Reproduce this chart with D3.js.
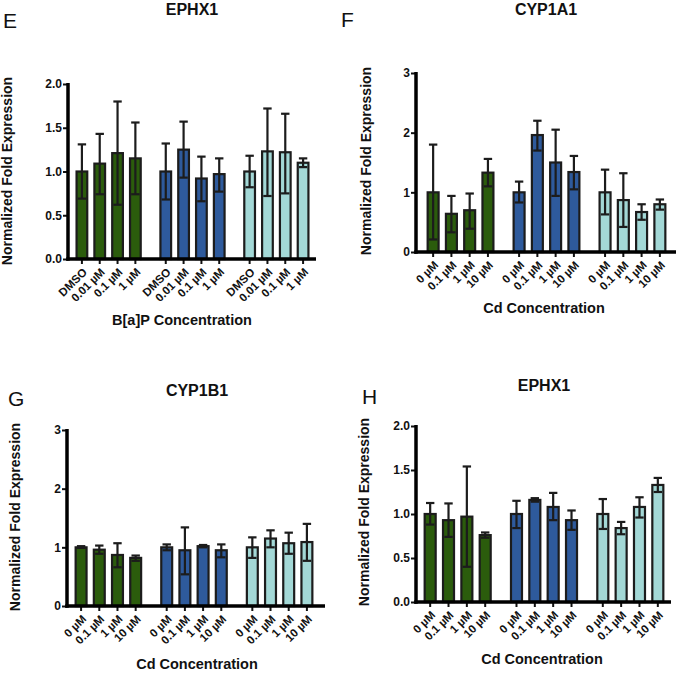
<!DOCTYPE html>
<html lang="en">
<head>
<meta charset="UTF-8">
<title>Normalized Fold Expression</title>
<script src="https://cdnjs.cloudflare.com/ajax/libs/d3/7.8.5/d3.min.js"></script>
<style>
    body { margin: 0; background: #fff; }
    svg { display: block; font-family: "Liberation Sans", Arial, Helvetica, sans-serif; }
    .panel-letter { font-size: 21px; fill: #111; }
    .panel-title { font-size: 16px; font-weight: bold; text-anchor: middle; fill: #111; }
    .axis-title { font-size: 14.5px; font-weight: bold; text-anchor: middle; fill: #111; }
    .y-title { font-size: 14px; font-weight: bold; text-anchor: middle; fill: #111; }
    .tick text { font-size: 12px; font-weight: bold; fill: #111; }
    .xt .tick text { font-size: 11.5px; }
</style>
</head>
<body>
<div id="chart"></div>
<script>
// data (order: group 1 x4, group 2 x4, group 3 x4)
const bapLabels = ["DMSO", "0.01 \u00b5M", "0.1 \u00b5M", "1 \u00b5M"];
const cdLabels = ["0 \u00b5M", "0.1 \u00b5M", "1 \u00b5M", "10 \u00b5M"];
const groupNames = ["g1", "g2", "g3"];
const groupColors = ["#2b5c0c", "#2e5a9c", "#a3d8d6"];

const ephx1BapMean = [1.00, 1.09, 1.21, 1.15, 1.00, 1.25, 0.92, 0.97, 1.00, 1.23, 1.22, 1.10];
const ephx1BapHi   = [1.31, 1.43, 1.80, 1.56, 1.32, 1.57, 1.17, 1.15, 1.18, 1.72, 1.66, 1.15];
const ephx1BapLo   = [0.69, 0.74, 0.62, 0.74, 0.68, 0.93, 0.66, 0.77, 0.82, 0.72, 0.75, 1.05];

const cyp1a1CdMean = [1.00, 0.64, 0.70, 1.33, 1.00, 1.96, 1.50, 1.34, 1.00, 0.87, 0.67, 0.80];
const cyp1a1CdHi   = [1.80, 0.94, 0.98, 1.56, 1.18, 2.20, 2.05, 1.61, 1.38, 1.32, 0.80, 0.88];
const cyp1a1CdLo   = [0.21, 0.33, 0.39, 1.10, 0.83, 1.70, 0.94, 1.05, 0.63, 0.42, 0.54, 0.71];

const cyp1b1CdMean = [1.00, 0.96, 0.87, 0.82, 1.00, 0.95, 1.02, 0.95, 1.00, 1.15, 1.07, 1.09];
const cyp1b1CdHi   = [1.02, 1.03, 1.07, 0.86, 1.05, 1.34, 1.04, 1.05, 1.17, 1.29, 1.25, 1.40];
const cyp1b1CdLo   = [0.99, 0.89, 0.66, 0.77, 0.95, 0.54, 1.00, 0.83, 0.82, 1.00, 0.89, 0.77];

const ephx1CdMean = [1.00, 0.93, 0.97, 0.76, 1.00, 1.16, 1.08, 0.93, 1.00, 0.84, 1.08, 1.33];
const ephx1CdHi   = [1.125, 1.12, 1.54, 0.79, 1.15, 1.18, 1.24, 1.04, 1.17, 0.91, 1.19, 1.41];
const ephx1CdLo   = [0.88, 0.74, 0.40, 0.73, 0.84, 1.14, 0.93, 0.82, 0.83, 0.77, 0.96, 1.25];

const ticksHalf = [0, 0.5, 1.0, 1.5, 2.0];
const ticksWhole = [0, 1, 2, 3];

const panels = [
    { letter: "E", title: "EPHX1", xTitle: "B[a]P Concentration", labels: bapLabels,
      mean: ephx1BapMean, lo: ephx1BapLo, hi: ephx1BapHi, yMax: 2, ticks: ticksHalf, fmt: ".1f",
      axisX: [68, 316], barX: [73, 312], yRange: [259, 84],
      letterXY: [3, 28], titleXY: [192, 15], yTitleXY: [7, 171], xTitleXY: [182, 325] },
    { letter: "F", title: "CYP1A1", xTitle: "Cd Concentration", labels: cdLabels,
      mean: cyp1a1CdMean, lo: cyp1a1CdLo, hi: cyp1a1CdHi, yMax: 3, ticks: ticksWhole, fmt: "d",
      axisX: [416, 676], barX: [424, 669], yRange: [252, 73],
      letterXY: [341, 27], titleXY: [546, 15], yTitleXY: [366, 161], xTitleXY: [544, 313] },
    { letter: "G", title: "CYP1B1", xTitle: "Cd Concentration", labels: cdLabels,
      mean: cyp1b1CdMean, lo: cyp1b1CdLo, hi: cyp1b1CdHi, yMax: 3, ticks: ticksWhole, fmt: "d",
      axisX: [67, 325], barX: [72, 316], yRange: [606, 430],
      letterXY: [8, 406], titleXY: [197, 396], yTitleXY: [15, 517], xTitleXY: [197, 669] },
    { letter: "H", title: "EPHX1", xTitle: "Cd Concentration", labels: cdLabels,
      mean: ephx1CdMean, lo: ephx1CdLo, hi: ephx1CdHi, yMax: 2, ticks: ticksHalf, fmt: ".1f",
      axisX: [416, 671], barX: [421, 667], yRange: [602, 426],
      letterXY: [362, 404], titleXY: [544, 391], yTitleXY: [364, 512], xTitleXY: [542, 664] }
];

const svg = d3.select("#chart").append("svg")
    .attr("width", 676)
    .attr("height", 673);

function drawPanel(p) {
    const g = svg.append("g");

    const y = d3.scaleLinear().domain([0, p.yMax]).range(p.yRange);
    const outer = d3.scaleBand().domain(groupNames).range(p.barX).paddingInner(0.15).paddingOuter(0);
    const inner = d3.scaleBand().domain(p.labels).range([0, outer.bandwidth()])
        .paddingInner(0.4).paddingOuter(0.2);

    const rows = p.mean.map((m, i) => ({
        group: groupNames[Math.floor(i / 4)],
        gi: Math.floor(i / 4),
        label: p.labels[i % 4],
        mean: m, lo: p.lo[i], hi: p.hi[i]
    }));
    const cx = d => outer(d.group) + inner(d.label) + inner.bandwidth() / 2;

    // bars
    g.selectAll("rect.bar").data(rows).enter().append("rect")
        .attr("class", "bar")
        .attr("x", d => outer(d.group) + inner(d.label))
        .attr("width", inner.bandwidth())
        .attr("y", d => y(d.mean))
        .attr("height", d => y(0) - y(d.mean))
        .attr("fill", d => groupColors[d.gi])
        .attr("stroke", "#1c1c1c")
        .attr("stroke-width", 2.2);

    // error bars
    const eb = g.selectAll("g.err").data(rows).enter().append("g").attr("class", "err")
        .attr("stroke", "#1c1c1c").attr("stroke-width", 2.2);
    eb.append("line")
        .attr("x1", cx).attr("x2", cx)
        .attr("y1", d => y(d.lo)).attr("y2", d => y(d.hi));
    eb.append("line")
        .attr("x1", d => cx(d) - 4.2).attr("x2", d => cx(d) + 4.2)
        .attr("y1", d => y(d.hi)).attr("y2", d => y(d.hi));
    eb.append("line")
        .attr("x1", d => cx(d) - 4.2).attr("x2", d => cx(d) + 4.2)
        .attr("y1", d => y(d.lo)).attr("y2", d => y(d.lo));

    // y axis
    const ya = g.append("g")
        .attr("transform", `translate(${p.axisX[0]},0)`)
        .call(d3.axisLeft(y).tickValues(p.ticks).tickFormat(d3.format(p.fmt))
            .tickSize(5).tickSizeOuter(0).tickPadding(1));
    ya.select(".domain").remove();
    ya.selectAll(".tick line").attr("stroke", "#111").attr("stroke-width", 2);

    // x axis ticks per group
    groupNames.forEach(gn => {
        const xa = g.append("g")
            .attr("class", "xt")
            .attr("transform", `translate(${outer(gn)},${p.yRange[0]})`)
            .call(d3.axisBottom(inner).tickSize(5).tickSizeOuter(0));
        xa.select(".domain").remove();
        xa.selectAll(".tick line").attr("stroke", "#111").attr("stroke-width", 2);
        xa.selectAll(".tick text")
            .attr("text-anchor", "end")
            .attr("x", 0).attr("y", 0).attr("dy", "0.35em")
            .attr("transform", "translate(3,11) rotate(-45)");
    });

    // axis lines
    g.append("line")
        .attr("x1", p.axisX[0]).attr("x2", p.axisX[0])
        .attr("y1", p.yRange[1] - 1).attr("y2", p.yRange[0] + 1.75)
        .attr("stroke", "#000").attr("stroke-width", 3.5);
    g.append("line")
        .attr("x1", p.axisX[0] - 1.75).attr("x2", p.axisX[1])
        .attr("y1", p.yRange[0]).attr("y2", p.yRange[0])
        .attr("stroke", "#000").attr("stroke-width", 3.5);

    // texts
    g.append("text").attr("class", "panel-letter")
        .attr("x", p.letterXY[0]).attr("y", p.letterXY[1]).text(p.letter);
    g.append("text").attr("class", "panel-title")
        .attr("x", p.titleXY[0]).attr("y", p.titleXY[1]).text(p.title);
    g.append("text").attr("class", "y-title")
        .attr("transform", `translate(${p.yTitleXY[0]},${p.yTitleXY[1]}) rotate(-90)`)
        .attr("dy", "0.35em")
        .text("Normalized Fold Expression");
    g.append("text").attr("class", "axis-title")
        .attr("x", p.xTitleXY[0]).attr("y", p.xTitleXY[1])
        .text(p.xTitle);
}

panels.forEach(drawPanel);
</script>
</body>
</html>
